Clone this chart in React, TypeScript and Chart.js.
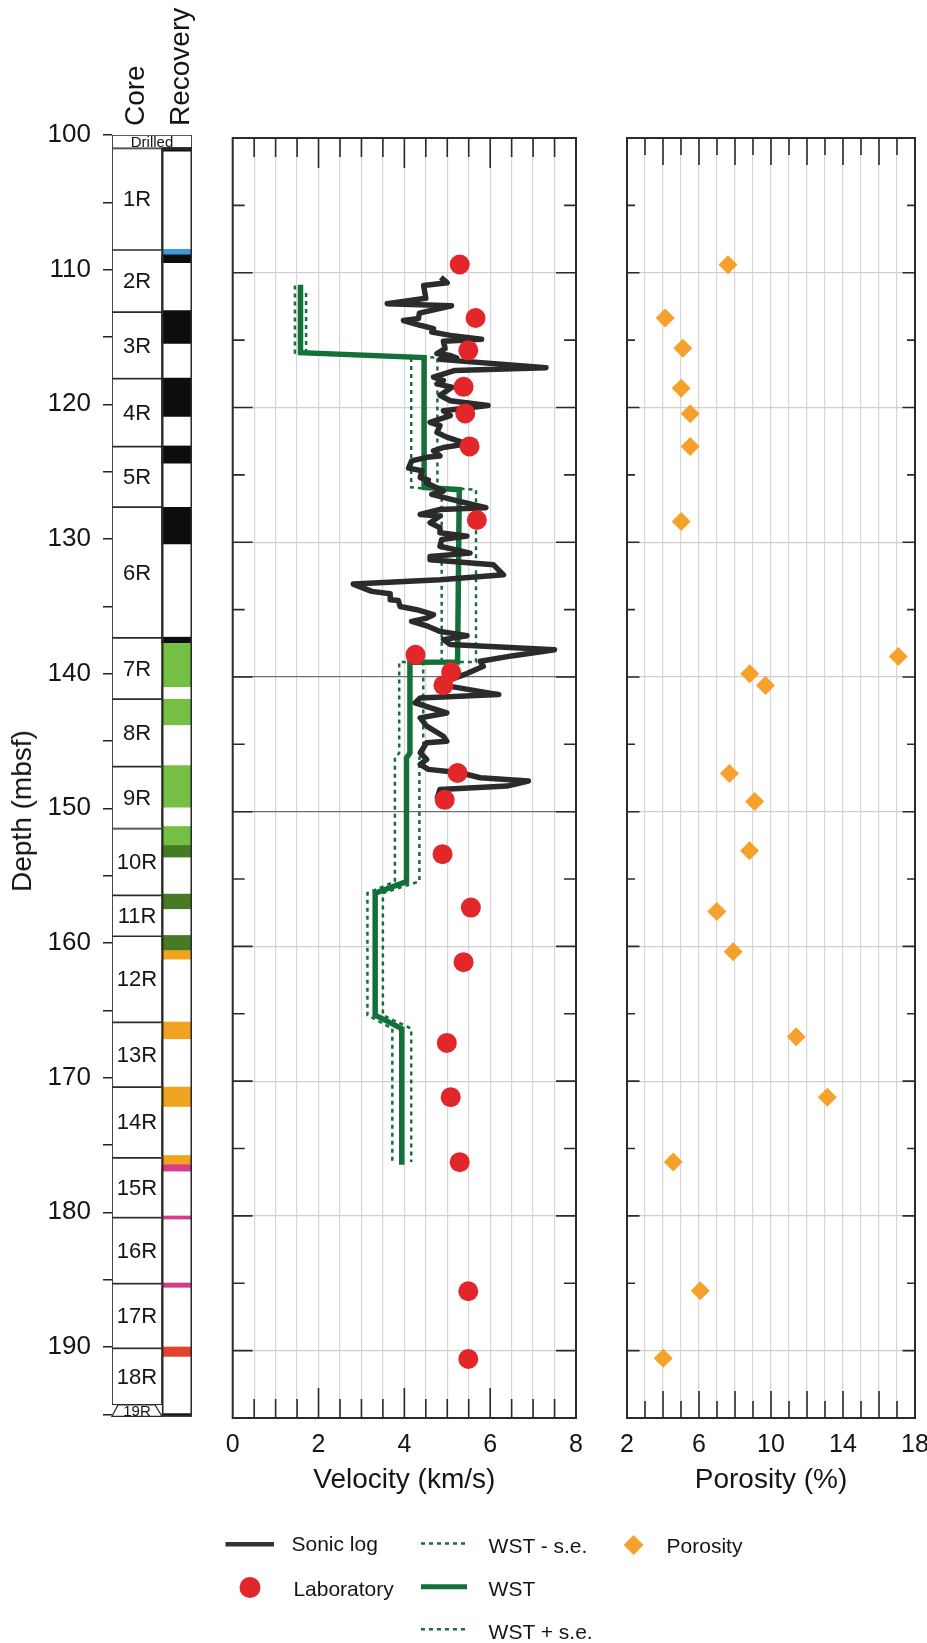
import React, { useEffect, useRef } from 'react';
import { Chart, registerables } from 'chart.js';

Chart.register(...registerables);

const FONT = '"Liberation Sans", Arial, Helvetica, sans-serif';
const INK = '#151515';
const FRAME = '#2b2b2b';
const GREEN = '#137039';

// ---------- depth axis ----------
const depthTickLabels = [100, 110, 120, 130, 140, 150, 160, 170, 180, 190];
const darkDepthLines = [140, 150];

// ---------- core column ----------
const drilledLabel = 'Drilled';
const drilledInterval = [100, 101];
const trapezoidCore = '19R';
const coreNames = ['1R', '2R', '3R', '4R', '5R', '6R', '7R', '8R', '9R', '10R', '11R', '12R', '13R', '14R', '15R', '16R', '17R', '18R', '19R'];
const coreTop = [101.0, 108.54, 113.16, 118.1, 123.14, 127.64, 137.34, 141.9, 146.9, 151.5, 156.47, 159.5, 165.9, 170.7, 175.95, 180.4, 185.3, 190.1, 194.3];
const coreBottom = [108.54, 113.16, 118.1, 123.14, 127.64, 137.34, 141.9, 146.9, 151.5, 156.47, 159.5, 165.9, 170.7, 175.95, 180.4, 185.3, 190.1, 194.3, 195.15];

// ---------- recovery column ----------
const recoveryFrame = [101.0, 195.15];
const BK = '#0d0d0d', BL = '#3d9bd8', LG = '#74c044', DG = '#477a25', OR = '#f0a31f', PK = '#d93a8b', RD = '#e4432b';
const recoveryTop = [100.94, 108.49, 108.9, 113.04, 118.06, 123.09, 127.64, 137.29, 137.74, 141.9, 146.82, 151.35, 152.76, 156.37, 159.44, 160.56, 165.87, 170.7, 175.78, 176.47, 180.27, 185.25, 190.0, 194.95];
const recoveryBottom = [101.2, 108.9, 109.48, 115.47, 120.9, 124.37, 130.36, 137.74, 140.96, 143.8, 149.91, 152.76, 153.62, 157.46, 160.56, 161.2, 167.11, 172.14, 176.47, 176.94, 180.5, 185.57, 190.7, 195.15];
const recoveryColor = [BK, BL, BK, BK, BK, BK, BK, BK, LG, LG, LG, LG, DG, DG, DG, OR, OR, OR, OR, PK, PK, PK, RD, BK];

// ---------- velocity panel ----------
const velocityTickLabels = [0, 2, 4, 6, 8];
const sonicDepth = [110.35, 110.75, 110.95, 111.9, 112.3, 112.45, 113.0, 113.4, 113.55, 113.9, 114.15, 114.4, 114.65, 114.94, 115.09, 115.64, 116.0, 116.14, 116.34, 116.43, 117.06, 117.25, 117.75, 118.0, 118.25, 118.5, 119.1, 119.5, 119.86, 120.24, 120.6, 121.1, 121.35, 121.85, 122.2, 122.7, 122.97, 123.22, 123.6, 123.7, 123.96, 124.5, 124.7, 125.2, 125.4, 125.6, 126.2, 126.45, 126.8, 127.44, 127.57, 127.94, 128.06, 128.56, 128.93, 129.3, 129.55, 129.8, 130.3, 130.81, 131.06, 131.31, 131.68, 132.42, 132.79, 133.11, 133.65, 133.83, 134.27, 134.32, 134.77, 135.01, 135.38, 135.63, 135.88, 136.25, 136.62, 136.94, 137.23, 137.6, 137.98, 138.42, 138.84, 139.21, 139.75, 140.2, 140.57, 141.31, 141.56, 141.93, 142.67, 143.04, 143.65, 144.4, 144.77, 144.89, 145.63, 146.12, 146.49, 146.86, 147.11, 147.48, 147.73, 148.1, 148.35, 149.04];
const sonicVelocity = [4.85, 5.0, 4.45, 4.5, 3.6, 5.1, 4.35, 4.33, 3.98, 4.37, 4.68, 4.64, 5.07, 5.8, 4.91, 4.95, 4.76, 5.07, 5.22, 4.83, 7.3, 5.18, 4.68, 4.91, 4.76, 5.11, 4.83, 5.07, 5.95, 4.91, 5.07, 4.6, 4.83, 4.76, 4.99, 5.46, 4.91, 4.68, 4.83, 4.52, 4.17, 4.1, 4.41, 4.37, 4.56, 4.52, 4.91, 4.64, 5.07, 5.9, 4.83, 4.37, 4.83, 4.6, 4.83, 4.83, 5.46, 4.87, 4.83, 5.53, 4.6, 4.6, 6.08, 6.31, 4.83, 2.81, 3.24, 3.67, 3.67, 3.86, 3.9, 4.29, 4.68, 4.52, 4.17, 4.56, 4.83, 5.46, 4.91, 5.07, 7.5, 6.54, 5.77, 5.84, 5.46, 5.07, 4.83, 6.2, 4.37, 4.25, 4.99, 4.37, 4.52, 4.91, 4.99, 4.52, 4.37, 4.52, 4.37, 4.56, 5.3, 5.77, 6.89, 6.39, 4.83, 4.76];

const wstDepth = [110.9, 115.93, 116.3, 125.93, 126.1, 138.89, 138.9, 145.65, 146.0, 155.18, 156.04, 165.1, 166.1, 176.2];
const wstVelocity = [1.58, 1.58, 4.46, 4.46, 5.28, 5.24, 4.13, 4.13, 4.05, 4.05, 3.32, 3.32, 3.94, 3.94];
const wstMinusDepth = [110.95, 115.93, 116.3, 125.93, 126.1, 138.89, 138.9, 145.65, 146.0, 155.18, 156.04, 165.1, 166.1, 176.0];
const wstMinusVelocity = [1.45, 1.45, 4.16, 4.16, 4.87, 4.87, 3.88, 3.88, 3.78, 3.78, 3.14, 3.14, 3.72, 3.72];
const wstPlusDepth = [111.5, 115.93, 116.3, 125.93, 126.1, 138.89, 138.9, 145.65, 146.0, 155.18, 156.04, 165.1, 166.1, 176.0];
const wstPlusVelocity = [1.71, 1.71, 4.77, 4.77, 5.67, 5.67, 4.44, 4.44, 4.35, 4.35, 3.5, 3.5, 4.16, 4.16];

const labDepth = [109.39, 113.36, 115.76, 118.47, 120.44, 122.89, 128.35, 138.35, 139.63, 140.62, 147.13, 149.12, 153.15, 157.12, 161.17, 167.16, 171.19, 176.01, 185.59, 190.62];
const labVelocity = [5.29, 5.66, 5.49, 5.38, 5.42, 5.52, 5.69, 4.26, 5.09, 4.91, 5.24, 4.94, 4.89, 5.55, 5.38, 4.99, 5.08, 5.29, 5.49, 5.49];

// ---------- porosity panel ----------
const porosityTickLabels = [2, 6, 10, 14, 18];
const porosityDepth = [109.4, 113.36, 115.6, 118.58, 120.46, 122.9, 128.46, 138.49, 139.77, 140.63, 147.16, 149.25, 152.9, 157.4, 160.4, 166.7, 171.2, 176.0, 185.56, 190.56];
const porosityValue = [7.61, 4.12, 5.1, 5.01, 5.51, 5.51, 5.01, 17.07, 8.82, 9.69, 7.69, 9.09, 8.81, 6.99, 7.9, 11.4, 13.13, 4.57, 6.07, 4.01];

const pts = (xs: number[], ys: number[]) => xs.map((x, i) => ({ x, y: ys[i] }));

type TickLens = { xLong: number; xShort: number; yLong: number; yShort: number };

const makeFramePlugin = (len: TickLens) => ({
  id: 'frameTicks',
  afterDraw(chart: any) {
    const { ctx, chartArea: a, scales } = chart;
    const xs = scales.x;
    const ys = scales.y;
    ctx.save();
    ctx.strokeStyle = FRAME;
    ctx.lineWidth = 1.6;
    ctx.beginPath();
    xs.ticks.forEach((t: any) => {
      const v = t.value;
      if (v <= xs.min + 1e-6 || v >= xs.max - 1e-6) return;
      const px = xs.getPixelForValue(v);
      const L = Math.abs(v % 2) < 1e-6 ? len.xLong : len.xShort;
      ctx.moveTo(px, a.top);
      ctx.lineTo(px, a.top + L);
      ctx.moveTo(px, a.bottom);
      ctx.lineTo(px, a.bottom - L);
    });
    for (let d = ys.min + 5; d < ys.max - 0.01; d += 5) {
      const py = ys.getPixelForValue(d);
      const L = Math.abs(d % 10) < 1e-6 ? len.yLong : len.yShort;
      ctx.moveTo(a.left, py);
      ctx.lineTo(a.left + L, py);
      ctx.moveTo(a.right, py);
      ctx.lineTo(a.right - L, py);
    }
    ctx.stroke();
    ctx.lineWidth = 2;
    ctx.strokeRect(a.left, a.top, a.right - a.left, a.bottom - a.top);
    ctx.restore();
  },
});

const coreLabelPlugin = {
  id: 'coreLabels',
  afterDatasetsDraw(chart: any) {
    const ctx = chart.ctx;
    ctx.save();
    ctx.textAlign = 'center';
    ctx.textBaseline = 'middle';
    const meta = chart.getDatasetMeta(2);
    meta.data.forEach((el: any, i: number) => {
      const { x, y, base, width } = el.getProps(['x', 'y', 'base', 'width'], true);
      const top = Math.min(y, base);
      const bot = Math.max(y, base);
      const name = coreNames[i];
      if (name === trapezoidCore) {
        ctx.beginPath();
        ctx.moveTo(x - width / 2, bot);
        ctx.lineTo(x - width / 2 + 6, top);
        ctx.lineTo(x + width / 2 - 7, top);
        ctx.lineTo(x + width / 2, bot);
        ctx.closePath();
        ctx.fillStyle = '#fff';
        ctx.fill();
        ctx.strokeStyle = FRAME;
        ctx.lineWidth = 1.2;
        ctx.stroke();
        ctx.fillStyle = INK;
        ctx.font = `15px ${FONT}`;
        ctx.fillText(name, x, (top + bot) / 2 + 1);
      } else {
        ctx.fillStyle = INK;
        ctx.font = `22px ${FONT}`;
        ctx.fillText(name, x, (top + bot) / 2 + 1);
      }
    });
    const d = chart.getDatasetMeta(3).data[0];
    if (d) {
      const { x, y, base } = d.getProps(['x', 'y', 'base'], true);
      ctx.font = `15px ${FONT}`;
      ctx.fillStyle = INK;
      ctx.fillText(drilledLabel, x, (y + base) / 2 + 1);
    }
    ctx.restore();
  },
};

function makeCore(canvas: HTMLCanvasElement) {
  return new Chart(canvas, {
    type: 'bar',
    data: {
      datasets: [
        {
          label: 'frame',
          data: [{ x: 65, y: recoveryFrame }] as any,
          backgroundColor: 'rgba(0,0,0,0)',
          borderColor: FRAME,
          borderWidth: 1.2,
          borderSkipped: false,
          barThickness: 30,
          stack: 'col',
          order: 0,
        },
        {
          label: 'recovery',
          data: recoveryTop.map((t, i) => ({ x: 65, y: [t, recoveryBottom[i]] })) as any,
          backgroundColor: recoveryColor,
          borderWidth: 0,
          barThickness: 30,
          stack: 'col',
          order: 1,
        },
        {
          label: 'cores',
          data: coreTop.map((t, i) => ({ x: 25, y: [t, coreBottom[i]] })) as any,
          backgroundColor: (c: any) => (coreNames[c.dataIndex] === trapezoidCore ? 'rgba(0,0,0,0)' : '#ffffff'),
          borderColor: (c: any) => (coreNames[c.dataIndex] === trapezoidCore ? 'rgba(0,0,0,0)' : FRAME),
          borderWidth: 1.2,
          borderSkipped: false,
          barThickness: 50,
          stack: 'col',
          order: 2,
        },
        {
          label: 'drilled',
          data: [{ x: 40, y: drilledInterval }] as any,
          backgroundColor: '#ffffff',
          borderColor: FRAME,
          borderWidth: 1.2,
          borderSkipped: false,
          barThickness: 80,
          stack: 'col',
          order: 3,
        },
      ],
    },
    options: {
      responsive: false,
      animation: false,
      devicePixelRatio: 1,
      layout: { padding: { left: 0, right: 8, top: 135, bottom: 3 } },
      plugins: { legend: { display: false }, tooltip: { enabled: false } },
      scales: {
        x: { type: 'linear', min: 0, max: 80, display: false, offset: false },
        y: {
          type: 'linear',
          reverse: true,
          stacked: false,
          min: 100,
          max: 195.2,
          afterFit: (s: any) => {
            s.width = 112;
            s.paddingTop = 0;
            s.paddingBottom = 0;
          },
          ticks: {
            stepSize: 5,
            includeBounds: false,
            autoSkip: false,
            padding: 12,
            color: INK,
            font: { size: 26, family: FONT },
            callback: (v: any) => (depthTickLabels.includes(Number(v)) ? String(v) : ''),
          },
          grid: { drawOnChartArea: false, drawTicks: true, tickLength: 9, color: '#222', lineWidth: 1.5 },
          border: { display: false },
        },
      },
    } as any,
    plugins: [coreLabelPlugin],
  });
}

function panelXScale(min: number, max: number, step: number, labels: number[], title: string) {
  return {
    type: 'linear',
    position: 'bottom',
    min,
    max,
    afterFit: (s: any) => {
      s.height = 102;
      s.paddingLeft = 0;
      s.paddingRight = 0;
    },
    ticks: {
      stepSize: step,
      autoSkip: false,
      maxRotation: 0,
      padding: 12,
      color: INK,
      font: { size: 25, family: FONT },
      callback: (v: any) => (labels.includes(Number(v)) ? String(v) : ''),
    },
    grid: { color: '#d6d6d6', lineWidth: 1.2, drawTicks: false },
    border: { display: false },
    title: { display: true, text: title, color: INK, font: { size: 28, family: FONT }, padding: { top: 0, bottom: 23 } },
  };
}

function panelYScale(darkLines: number[]) {
  return {
    type: 'linear',
    reverse: true,
    min: 100,
    max: 195,
    afterFit: (s: any) => {
      s.width = 0;
      s.paddingTop = 0;
      s.paddingBottom = 0;
    },
    ticks: { display: false, stepSize: 10, includeBounds: false },
    grid: {
      drawTicks: false,
      lineWidth: 1.2,
      color: (c: any) => (c.tick && darkLines.includes(c.tick.value) ? '#6f6f6f' : '#cfcfcf'),
    },
    border: { display: false },
  };
}

function makeVelocity(canvas: HTMLCanvasElement) {
  return new Chart(canvas, {
    type: 'scatter',
    data: {
      datasets: [
        {
          label: 'Laboratory',
          data: pts(labVelocity, labDepth),
          pointRadius: 10,
          pointBackgroundColor: '#e2262a',
          pointBorderWidth: 0,
          showLine: false,
          order: 0,
        },
        {
          label: 'Sonic log',
          data: pts(sonicVelocity, sonicDepth),
          showLine: true,
          borderColor: '#2b2b2b',
          borderWidth: 5.5,
          borderJoinStyle: 'round',
          pointRadius: 0,
          order: 1,
        },
        {
          label: 'WST',
          data: pts(wstVelocity, wstDepth),
          showLine: true,
          borderColor: GREEN,
          borderWidth: 5.5,
          pointRadius: 0,
          order: 2,
        },
        {
          label: 'WST - s.e.',
          data: pts(wstMinusVelocity, wstMinusDepth),
          showLine: true,
          borderColor: GREEN,
          borderWidth: 2.5,
          borderDash: [4, 4],
          pointRadius: 0,
          order: 3,
        },
        {
          label: 'WST + s.e.',
          data: pts(wstPlusVelocity, wstPlusDepth),
          showLine: true,
          borderColor: GREEN,
          borderWidth: 2.5,
          borderDash: [4, 4],
          pointRadius: 0,
          order: 3,
        },
      ],
    },
    options: {
      responsive: false,
      animation: false,
      devicePixelRatio: 1,
      layout: { padding: { left: 32.7, right: 24, top: 138, bottom: 0 } },
      plugins: { legend: { display: false }, tooltip: { enabled: false } },
      scales: {
        x: panelXScale(0, 8, 0.5, velocityTickLabels, 'Velocity (km/s)'),
        y: panelYScale(darkDepthLines),
      },
    } as any,
    plugins: [makeFramePlugin({ xLong: 30, xShort: 19, yLong: 20, yShort: 12 })],
  });
}

function makePorosity(canvas: HTMLCanvasElement) {
  return new Chart(canvas, {
    type: 'scatter',
    data: {
      datasets: [
        {
          label: 'Porosity',
          data: pts(porosityValue, porosityDepth),
          pointStyle: 'rectRot',
          pointRadius: 9.5,
          pointBackgroundColor: '#f6a12b',
          pointBorderWidth: 0,
        },
      ],
    },
    options: {
      responsive: false,
      animation: false,
      devicePixelRatio: 1,
      layout: { padding: { left: 27, right: 12, top: 138, bottom: 0 } },
      plugins: { legend: { display: false }, tooltip: { enabled: false } },
      scales: {
        x: panelXScale(2, 18, 1, porosityTickLabels, 'Porosity (%)'),
        y: panelYScale([]),
      },
    } as any,
    plugins: [makeFramePlugin({ xLong: 27, xShort: 17, yLong: 12.5, yShort: 8 })],
  });
}

const Rot = ({ text, x, y, size, start }: { text: string; x: number; y: number; size: number; start?: boolean }) => (
  <div
    style={{
      position: 'absolute',
      left: 0,
      top: 0,
      transformOrigin: '0 0',
      transform: `translate(${x}px, ${y}px) rotate(-90deg) translate(${start ? '0' : '-50%'}, -50%)`,
      fontSize: size,
      lineHeight: `${size}px`,
      whiteSpace: 'nowrap',
      color: INK,
      fontFamily: FONT,
    }}
  >
    {text}
  </div>
);

const LegendText = ({ text, x, cy }: { text: string; x: number; cy: number }) => (
  <div
    style={{
      position: 'absolute',
      left: x,
      top: cy - 10.5,
      fontSize: 21,
      lineHeight: '21px',
      whiteSpace: 'nowrap',
      color: INK,
      fontFamily: FONT,
    }}
  >
    {text}
  </div>
);

export default function App() {
  const coreRef = useRef<HTMLCanvasElement>(null);
  const velRef = useRef<HTMLCanvasElement>(null);
  const porRef = useRef<HTMLCanvasElement>(null);

  useEffect(() => {
    Chart.defaults.font.family = FONT;
    const charts = [makeCore(coreRef.current!), makeVelocity(velRef.current!), makePorosity(porRef.current!)];
    return () => charts.forEach((c) => c.destroy());
  }, []);

  return (
    <div style={{ position: 'absolute', left: 0, top: 0, width: 927, height: 1643, background: '#fff', overflow: 'hidden', fontFamily: FONT }}>
      <canvas ref={coreRef} width={200} height={1420} style={{ position: 'absolute', left: 0, top: 0 }} />
      <canvas ref={velRef} width={400} height={1520} style={{ position: 'absolute', left: 200, top: 0 }} />
      <canvas ref={porRef} width={327} height={1520} style={{ position: 'absolute', left: 600, top: 0 }} />

      <Rot text="Core" x={135.3} y={126} size={28} start />
      <Rot text="Recovery" x={179.7} y={126} size={28} start />
      <Rot text="Depth (mbsf)" x={22} y={811} size={28} />

      <svg width={927} height={143} style={{ position: 'absolute', left: 0, top: 1500 }}>
        <line x1={225.5} y1={44.3} x2={274} y2={44.3} stroke="#333" strokeWidth={4.5} />
        <circle cx={250} cy={87.5} r={10.5} fill="#e2262a" />
        <line x1={421} y1={43.5} x2={467} y2={43.5} stroke={GREEN} strokeWidth={2.5} strokeDasharray="4 4" />
        <line x1={421} y1={86.8} x2={467} y2={86.8} stroke={GREEN} strokeWidth={5} />
        <line x1={421} y1={129.3} x2={467} y2={129.3} stroke={GREEN} strokeWidth={2.5} strokeDasharray="4 4" />
        <polygon points="633.6,35 643.6,45 633.6,55 623.6,45" fill="#f6a12b" />
      </svg>
      <LegendText text="Sonic log" x={291.5} cy={1543.5} />
      <LegendText text="Laboratory" x={293.4} cy={1588.5} />
      <LegendText text="WST - s.e." x={488.6} cy={1545.5} />
      <LegendText text="WST" x={488.6} cy={1588} />
      <LegendText text="WST + s.e." x={488.6} cy={1631} />
      <LegendText text="Porosity" x={666.6} cy={1545} />
    </div>
  );
}
